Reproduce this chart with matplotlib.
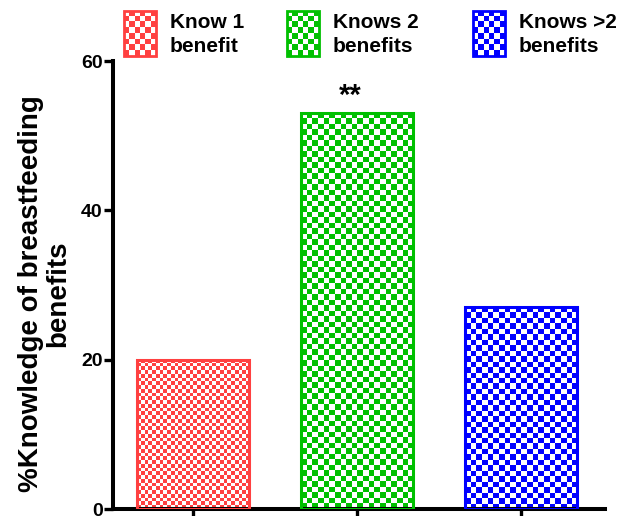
import numpy as np
import matplotlib
matplotlib.use("Agg")
import matplotlib.pyplot as plt
from matplotlib.patches import Rectangle
from matplotlib.colors import to_rgb

# ---- data -------------------------------------------------------------
categories = ["Know 1\nbenefit", "Knows 2\nbenefits", "Knows >2\nbenefits"]
values = [20, 53, 27]
significance = ["", "**", ""]
yticks = [0, 20, 40, 60]

# ---- style ------------------------------------------------------------
colors = ["#FF4040", "#00C000", "#0000FF"]
cell_px = [3.7, 5.5, 5.5]          # checker square size in pixels

plt.rcParams['font.family'] = ['Liberation Sans', 'DejaVu Sans']
plt.rcParams['font.weight'] = 'bold'

W, H, DPI = 641, 516, 100
fig = plt.figure(figsize=(W / DPI, H / DPI), dpi=DPI)

AX_L, AX_B, AX_W, AX_H = 113, 7, 492, 448
ax = fig.add_axes([AX_L / W, AX_B / H, AX_W / W, AX_H / H])
XLIM = (-0.488, 2.512)
YLIM = (0, 60)


def checker_rgba(nx, ny, color):
    mask = (np.add.outer(np.arange(ny), np.arange(nx)) % 2).astype(bool)
    img = np.ones((ny, nx, 3))
    img[mask] = to_rgb(color)
    return img


def fill_checker(a, patch, extent, w_px, h_px, color, cell):
    nx = max(1, int(round(w_px / cell)))
    ny = max(1, int(round(h_px / cell)))
    im = a.imshow(checker_rgba(nx, ny, color), extent=extent, origin='upper',
                  interpolation='nearest', aspect='auto', zorder=2)
    im.set_clip_path(patch)
    return im


x = np.arange(len(values))
bar_width = 0.683
bars = ax.bar(x, values, width=bar_width, facecolor='none',
              edgecolor=colors, linewidth=2.2, zorder=3)

px_x = AX_W / (XLIM[1] - XLIM[0])
px_y = AX_H / (YLIM[1] - YLIM[0])
for bar, c, cs in zip(bars, colors, cell_px):
    x0, y0 = bar.get_x(), bar.get_y()
    w, h = bar.get_width(), bar.get_height()
    fill_checker(ax, bar, (x0, x0 + w, y0, y0 + h), w * px_x, h * px_y, c, cs)

for xi, v, s in zip(x, values, significance):
    if s:
        ax.text(xi - 0.04, v + 1.2, s, ha='center', va='baseline',
                fontsize=21, fontweight='bold')

ax.set_xlim(*XLIM)
ax.set_ylim(*YLIM)

# ---- axes -------------------------------------------------------------
for side in ('top', 'right'):
    ax.spines[side].set_visible(False)
for side in ('left', 'bottom'):
    ax.spines[side].set_linewidth(2.9)
ax.set_xticks(x)
ax.set_xticklabels([])
ax.set_yticks(yticks)
ax.tick_params(axis='x', length=10, width=2.4, direction='out')
ax.tick_params(axis='y', length=6.5, width=2.4, direction='out',
               labelsize=14, pad=1)
for lbl in ax.get_yticklabels():
    lbl.set_fontweight('bold')

ax.set_ylabel("%Knowledge of breastfeeding\nbenefits", fontsize=20,
              fontweight='bold', linespacing=1.05)
ax.yaxis.set_label_coords((71 - AX_L) / AX_W, 0.48)

# ---- legend -----------------------------------------------------------
leg_x = [124, 287, 473]
leg_top, leg_w, leg_h = 11, 32, 45
for lx, lab, c, cs in zip(leg_x, categories, colors, cell_px):
    hax = fig.add_axes([lx / W, (H - leg_top - leg_h) / H, leg_w / W, leg_h / H])
    hax.set_xlim(0, 1)
    hax.set_ylim(0, 1)
    hax.axis('off')
    frame = Rectangle((0, 0), 1, 1, facecolor='none', edgecolor=c,
                      linewidth=2.0, zorder=3, clip_on=False)
    hax.add_patch(frame)
    fill_checker(hax, frame, (0, 1, 0, 1), leg_w, leg_h, c, 5.5)
    hax.set_xlim(0, 1)
    hax.set_ylim(0, 1)
    fig.text((lx + leg_w + 14) / W, (H - leg_top - leg_h / 2 - 1) / H, lab,
             ha='left', va='center', fontsize=15, fontweight='bold',
             linespacing=1.35)

fig.savefig("out.png", dpi=DPI)
